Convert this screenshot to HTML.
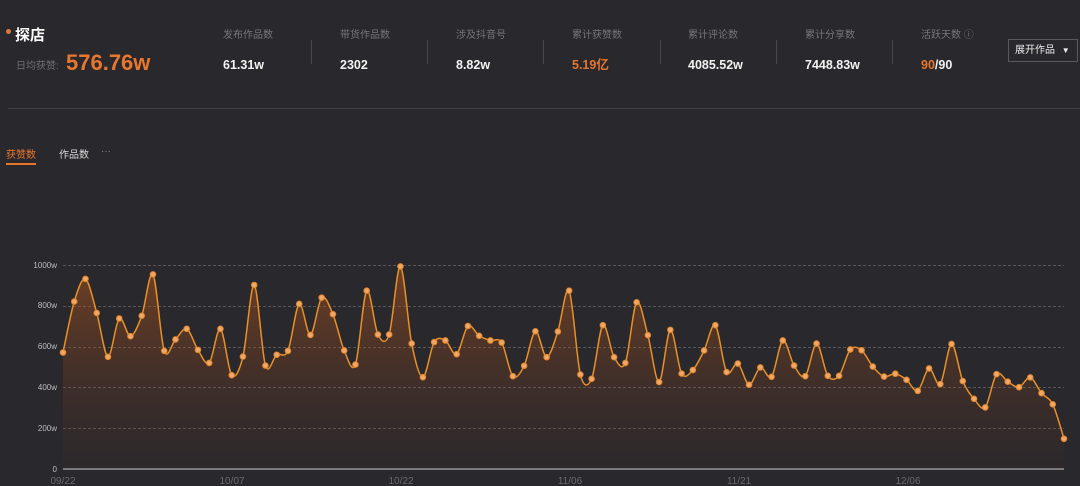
<!DOCTYPE html>
<html><head><meta charset="utf-8"><style>
html,body{margin:0;padding:0;background:#29282c;width:1080px;height:486px;overflow:hidden;font-family:"Liberation Sans","Noto Sans CJK SC",sans-serif;}
.abs{position:absolute;white-space:nowrap}
.lab{color:#77767a;font-size:10px;top:29px;line-height:13px}
.val{color:#f2f2f2;font-size:12.5px;font-weight:bold;top:58px;line-height:15px}
.div{position:absolute;top:40px;width:1px;height:24px;background:#48474b}
</style></head><body>
<div class="abs" style="left:6px;top:29px;width:5px;height:5px;border-radius:50%;background:#e07a3a"></div>
<div class="abs" style="left:15px;top:24px;color:#fff;font-size:15px;font-weight:bold">探店</div>
<div class="abs" style="left:16px;top:57px;color:#6f6e72;font-size:10px">日均获赞:</div>
<div class="abs" style="left:66px;top:50px;color:#e8772e;font-size:22px;font-weight:bold">576.76w</div>

<div class="abs lab" style="left:223px">发布作品数</div><div class="abs val" style="left:223px">61.31w</div>
<div class="div" style="left:311px"></div>
<div class="abs lab" style="left:340px">带货作品数</div><div class="abs val" style="left:340px">2302</div>
<div class="div" style="left:427px"></div>
<div class="abs lab" style="left:456px">涉及抖音号</div><div class="abs val" style="left:456px">8.82w</div>
<div class="div" style="left:543px"></div>
<div class="abs lab" style="left:572px">累计获赞数</div><div class="abs val" style="left:572px;color:#e8772e">5.19亿</div>
<div class="div" style="left:660px"></div>
<div class="abs lab" style="left:688px">累计评论数</div><div class="abs val" style="left:688px">4085.52w</div>
<div class="div" style="left:776px"></div>
<div class="abs lab" style="left:805px">累计分享数</div><div class="abs val" style="left:805px">7448.83w</div>
<div class="div" style="left:892px"></div>
<div class="abs lab" style="left:921px">活跃天数 ⓘ</div><div class="abs val" style="left:921px"><span style="color:#e8772e">90</span>/90</div>
<div class="abs" style="left:1008px;top:39px;width:68px;height:21px;border:1px solid #5a595d;color:#eee;font-size:10px;line-height:21px;text-indent:6px">展开作品 <span style="font-size:8px;margin-left:4px">▼</span></div>
<div class="abs" style="left:8px;top:108px;width:1072px;height:1px;background:#413f44"></div>
<div class="abs" style="left:6px;top:146px;color:#e8772e;font-size:10px">获赞数</div>
<div class="abs" style="left:6px;top:163px;width:30px;height:2px;background:#e8772e"></div>
<div class="abs" style="left:59px;top:146px;color:#dcdcdc;font-size:10px">作品数</div>
<div class="abs" style="left:101px;top:146px;color:#888;font-size:10px">···</div>

<svg class="abs" style="left:0;top:0" width="1080" height="486" id="c">
<defs><linearGradient id="g" x1="0" y1="0" x2="0" y2="1">
<stop offset="0" stop-color="#b85a1c" stop-opacity="0.5"/>
<stop offset="0.6" stop-color="#8a4420" stop-opacity="0.22"/>
<stop offset="1" stop-color="#6a3520" stop-opacity="0.05"/></linearGradient></defs>
<g font-size="8" fill="#bdbcc0" text-anchor="end" font-family="Liberation Sans, sans-serif">
<text x="57" y="268">1000w</text><text x="57" y="308">800w</text><text x="57" y="349">600w</text><text x="57" y="390">400w</text><text x="57" y="431">200w</text><text x="57" y="472">0</text>
</g>
<g stroke="#58565a" stroke-dasharray="3,2" stroke-width="1">
<line x1="63" x2="1064" y1="265.5" y2="265.5"/><line x1="63" x2="1064" y1="306.5" y2="306.5"/><line x1="63" x2="1064" y1="347.5" y2="347.5"/><line x1="63" x2="1064" y1="387.5" y2="387.5"/><line x1="63" x2="1064" y1="428.5" y2="428.5"/>
</g>
<line x1="63" x2="1064" y1="469" y2="469" stroke="#cfcfcf" stroke-width="1"/>
<g font-size="10" fill="#6a696d" text-anchor="middle" font-family="Liberation Sans, sans-serif">
<text x="63" y="484">09/22</text><text x="232" y="484">10/07</text><text x="401" y="484">10/22</text><text x="570" y="484">11/06</text><text x="739" y="484">11/21</text><text x="908" y="484">12/06</text>
</g>
<path id="area" fill="url(#g)"/>
<path id="line" fill="none" stroke="#e8902a" stroke-width="1.5"/>
<g id="dots"></g>
</svg>
<script>
var v=[571,821,932,765,550,738,651,751,954,579,635,687,584,520,687,460,551,902,507,560,579,809,657,840,759,581,512,874,659,659,993,615,450,622,630,563,701,653,630,620,455,506,675,
548,674,874,463,442,705,548,520,817,656,426,682,468,485,581,705,475,517,413,498,452,630,507,455,615,457,457,586,582,502,453,467,437,383,493,416,613,431,344,302,465,428,401,449,372,317,148];
var n=v.length,x0=63,x1=1064,dx=(x1-x0)/(n-1);
var P=v.map(function(a,i){return [x0+i*dx,469-a*0.204];});
var d="M"+P[0][0]+","+P[0][1];
for(var i=0;i<n-1;i++){var p0=P[Math.max(i-1,0)],p1=P[i],p2=P[i+1],p3=P[Math.min(i+2,n-1)];var t=0.16;
d+=" C"+(p1[0]+(p2[0]-p0[0])*t)+","+(p1[1]+(p2[1]-p0[1])*t)+" "+(p2[0]-(p3[0]-p1[0])*t)+","+(p2[1]-(p3[1]-p1[1])*t)+" "+p2[0]+","+p2[1];}
document.getElementById("line").setAttribute("d",d);
document.getElementById("area").setAttribute("d",d+" L"+x1+",469 L"+x0+",469 Z");
var g="";P.forEach(function(p){g+='<circle cx="'+p[0]+'" cy="'+p[1]+'" r="2.8" fill="#f0a868" stroke="#e0842a" stroke-width="1"/>';});
document.getElementById("dots").innerHTML=g;
</script>
</body></html>
